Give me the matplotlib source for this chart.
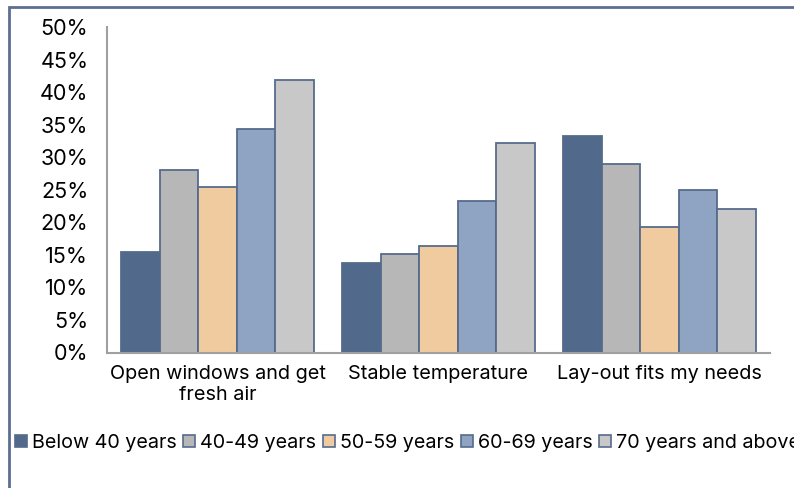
import matplotlib
matplotlib.use("Agg")
import matplotlib.pyplot as plt
import numpy as np
from matplotlib.patches import Rectangle, Patch

plt.rcParams['font.family'] = ['Inter', 'DejaVu Sans']

categories = ["Open windows and get\nfresh air", "Stable temperature", "Lay-out fits my needs"]
series_names = ["Below 40 years", "40-49 years", "50-59 years", "60-69 years", "70 years and above"]
below40 = [15.4, 13.7, 33.3]
age40_49 = [28.1, 15.2, 28.9]
age50_59 = [25.4, 16.3, 19.3]
age60_69 = [34.4, 23.2, 25.0]
age70plus = [41.8, 32.2, 22.1]
yticks = [0, 5, 10, 15, 20, 25, 30, 35, 40, 45, 50]

values = [below40, age40_49, age50_59, age60_69, age70plus]
colors = ["#51698a", "#b7b7b7", "#f0cb9f", "#8fa3c2", "#c8c8c8"]
edge = "#566b8c"

fig = plt.figure(figsize=(7.94, 4.88), dpi=100)
ax = fig.add_axes([107/794, 1-352.5/488, 663/794, (352.5-27)/488])

x = np.arange(len(categories))
n = len(values)
group_w = 0.87
bw = group_w / n
for i, (vals, c) in enumerate(zip(values, colors)):
    pos = x - group_w/2 + bw*(i+0.5)
    ax.bar(pos, vals, width=bw, color=c, edgecolor=edge, linewidth=1.3, label=series_names[i], zorder=2)

ax.set_xlim(-0.5, len(categories)-0.5)
ax.set_ylim(0, 50)
ax.set_yticks(yticks)
ax.set_yticklabels([f"{t}%" for t in yticks], fontsize=15.5)
ax.set_xticks(x)
ax.set_xticklabels(categories, fontsize=14.3, linespacing=1.2)
ax.tick_params(axis='both', length=0)
ax.tick_params(axis='y', pad=13.5)
ax.tick_params(axis='x', pad=9)
for s in ['top', 'right']:
    ax.spines[s].set_visible(False)
for s in ['left', 'bottom']:
    ax.spines[s].set_color('#a0a0a0')
    ax.spines[s].set_linewidth(1.5)

handles = [Patch(facecolor=c, edgecolor=edge, linewidth=1.2) for c in colors]
leg = fig.legend(handles, series_names, loc='center left', bbox_to_anchor=(15/794, 1-443/488),
                 ncol=5, frameon=False, fontsize=14.2, handlelength=0.6, handleheight=0.6,
                 handletextpad=0.25, columnspacing=0.35, borderaxespad=0, borderpad=0)

fig.patches.append(Rectangle((9/794, -0.1), 1.2, 1-7/488+0.1, transform=fig.transFigure,
                             fill=False, edgecolor='#5b6f91', linewidth=2.0, clip_on=False))

fig.savefig("out.png", dpi=100)
